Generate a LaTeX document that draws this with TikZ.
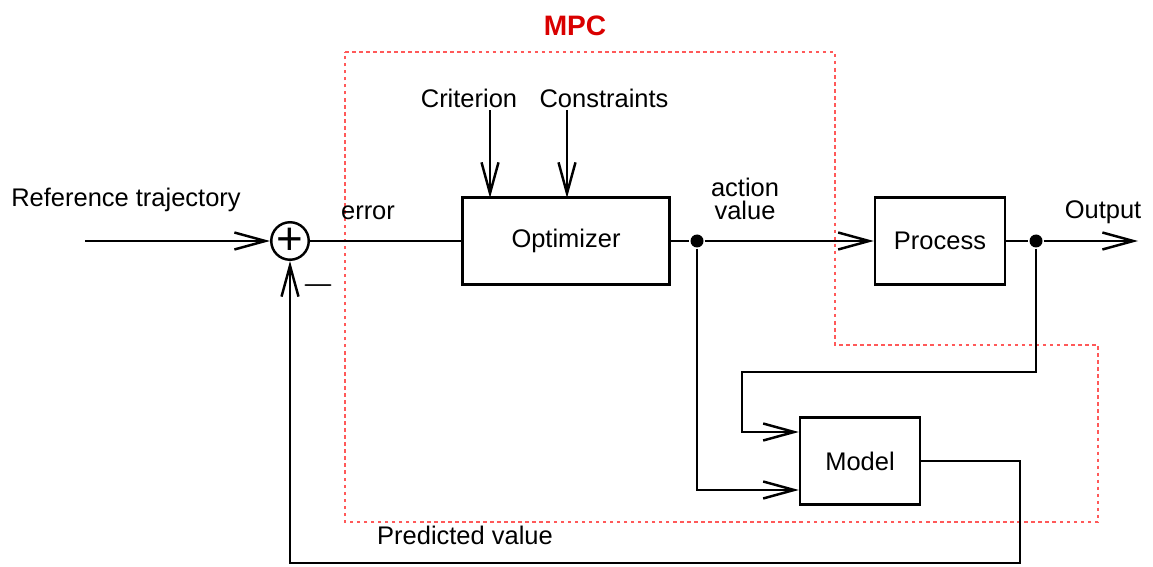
\documentclass[tikz,border=0pt]{standalone}
\usepackage{fontspec}
\setmainfont{Liberation Sans}
\usepackage{tikz}
\usetikzlibrary{arrows.meta}

\begin{document}
\begin{tikzpicture}[
    x=0.02cm, y=-0.02cm,
    font=\fontsize{14.5}{16}\selectfont,
    line width=1.4pt,
    box/.style={draw, minimum height=1.74cm, inner sep=0pt},
    sumnode/.style={draw, circle, minimum size=0.7cm, inner sep=0pt},
    dot/.style={circle, fill=black, minimum size=0.26cm, inner sep=0pt},
    lbl/.style={inner sep=1pt, align=center},
    arr/.style={-{Straight Barb[length=0.62cm, width=0.34cm]}},
    mpcline/.style={draw=red!65, line width=0.8pt, dash pattern=on 2pt off 2pt}
  ]
    \useasboundingbox (0,0) rectangle (1153,567);

    % controller frame
    \draw[mpcline] (345,52) -- (835,52) -- (835,345) -- (1098,345)
      -- (1098,522) -- (345,522) -- cycle;
    \node[lbl, text=red!85!black, font=\fontsize{16}{18}\selectfont\bfseries] (mpc) at (575,26) {MPC};

    \node[sumnode] (sum) at (290,241) {\fontsize{26}{26}\selectfont +};
    \node[box, minimum width=4.14cm] (opt) at (566,241) {Optimizer};
    \node[box, minimum width=2.6cm] (proc) at (940,241) {Process};
    \node[box, minimum width=2.4cm] (model) at (860,461) {Model};

    \node[dot] (ua) at (697,241) {};
    \node[dot] (yout) at (1036,241) {};

    \node[lbl] (ref) at (126,200) {Reference trajectory};
    \node[lbl] (err) at (368,213) {error};
    \node[lbl] (crit) at (469,98) {Criterion};
    \node[lbl] (cons) at (604,98) {Constraints};
    \node[lbl] (act) at (745,199) {action\\[-3pt]value};
    \node[lbl] (outl) at (1103,212) {Output};
    \node[lbl] (minus) at (318,286) {\fontsize{24}{24}\selectfont $-$};
    \node[lbl] (pred) at (465,535) {Predicted value};

    \coordinate (refin) at (85,241);
    \coordinate (critin) at (490,198);
    \coordinate (consin) at (567,198);
    \coordinate (yend) at (1138,241);

    \draw[arr] (refin) -- (sum);
    \draw (sum) -- (opt);
    \draw[arr] (crit.south -| critin) -- (critin);
    \draw[arr] (cons.south -| consin) -- (consin);
    \draw (opt) -- (ua);
    \draw[arr] (ua) -- (proc);
    \draw (proc) -- (yout);
    \draw[arr] (yout) -- (yend);

    \draw[arr] (yout) |- (742,372) |- ([yshift=0.58cm]model.west);
    \draw[arr] (ua) |- ([yshift=-0.58cm]model.west);
    \draw[arr] (model.east) -| (1020,563) -| (sum);
\end{tikzpicture}
\end{document}
